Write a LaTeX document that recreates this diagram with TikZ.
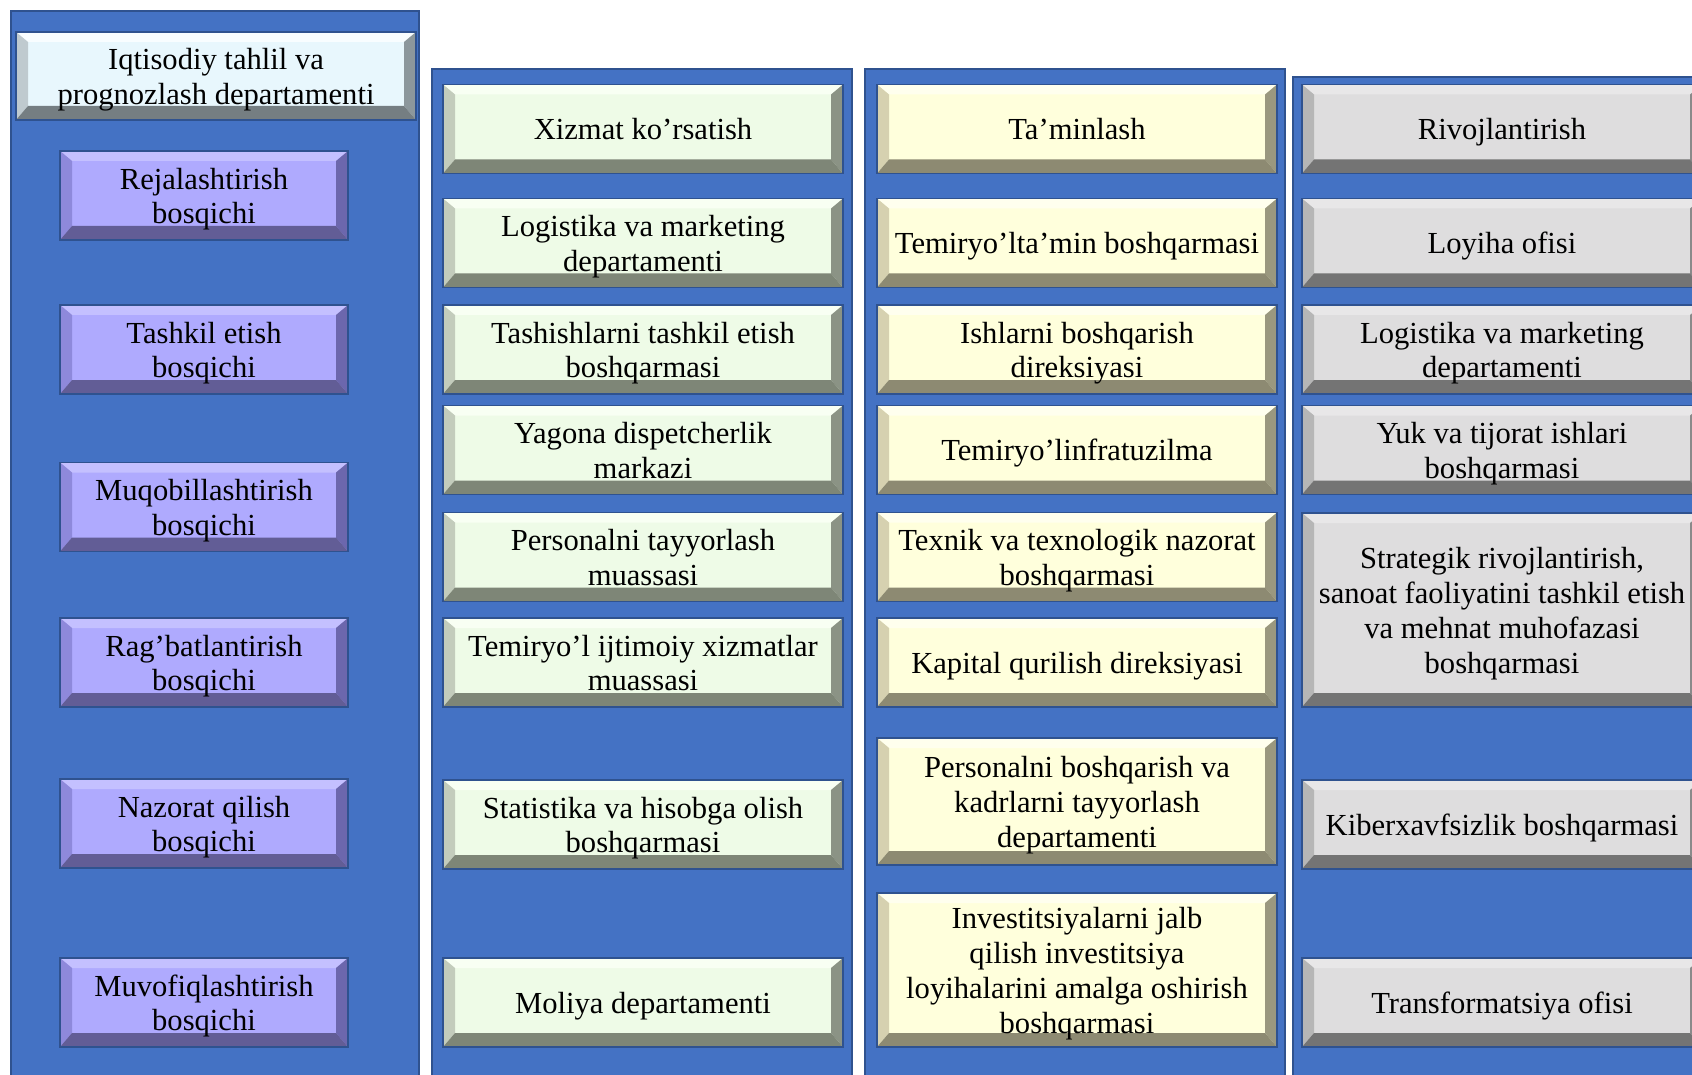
\documentclass[tikz,border=0pt]{standalone}
\usepackage{fontspec}
\setmainfont{Liberation Serif}

\definecolor{panelblue}{HTML}{4472C4}
\definecolor{panelline}{HTML}{2F528F}
% face, top, left, right, bottom shades for each family
\definecolor{headF}{HTML}{E8F7FD}\definecolor{headT}{HTML}{F8FDFF}\definecolor{headL}{HTML}{BFCACF}\definecolor{headR}{HTML}{8C979C}\definecolor{headB}{HTML}{757E82}
\definecolor{stageF}{HTML}{AFAAFE}\definecolor{stageT}{HTML}{C4C0FF}\definecolor{stageL}{HTML}{8E89DB}\definecolor{stageR}{HTML}{6C67AD}\definecolor{stageB}{HTML}{625D96}
\definecolor{servF}{HTML}{EEFBE7}\definecolor{servT}{HTML}{F8FFF3}\definecolor{servL}{HTML}{C3CCBC}\definecolor{servR}{HTML}{8B9385}\definecolor{servB}{HTML}{7E8677}
\definecolor{suppF}{HTML}{FFFFDC}\definecolor{suppT}{HTML}{FFFFEE}\definecolor{suppL}{HTML}{D6D1B0}\definecolor{suppR}{HTML}{9A987F}\definecolor{suppB}{HTML}{8D8A72}
\definecolor{devF}{HTML}{DEDDDE}\definecolor{devT}{HTML}{E8E7E8}\definecolor{devL}{HTML}{B6B6B6}\definecolor{devR}{HTML}{8A8A8A}\definecolor{devB}{HTML}{747474}

% centred lines, set a little low in the box
\newcommand\boxtext[1]{\raisebox{-2pt}[\height][\depth]{\begin{tabular}{@{}c@{}}#1\end{tabular}}}

\tikzset{
  bevel/.style={% #1 = colour family prefix
    draw=panelline, line width=0.8pt, fill=#1F, inner sep=0pt,
    font=\fontsize{15.3pt}{17.4pt}\selectfont,
    path picture={
      \fill[#1T] (path picture bounding box.north west) -- (path picture bounding box.north east)
        -- ([shift={(-6pt,-5pt)}]path picture bounding box.north east) -- ([shift={(6pt,-5pt)}]path picture bounding box.north west) -- cycle;
      \fill[#1L] (path picture bounding box.north west) -- ([shift={(6pt,-5pt)}]path picture bounding box.north west)
        -- ([shift={(6pt,7pt)}]path picture bounding box.south west) -- (path picture bounding box.south west) -- cycle;
      \fill[#1R] (path picture bounding box.north east) -- (path picture bounding box.south east)
        -- ([shift={(-6pt,7pt)}]path picture bounding box.south east) -- ([shift={(-6pt,-5pt)}]path picture bounding box.north east) -- cycle;
      \fill[#1B] (path picture bounding box.south west) -- ([shift={(6pt,7pt)}]path picture bounding box.south west)
        -- ([shift={(-6pt,7pt)}]path picture bounding box.south east) -- (path picture bounding box.south east) -- cycle;
    }},
  headbox/.style={bevel=head, minimum width=200pt, minimum height=44pt},
  stagebox/.style={bevel=stage, minimum width=144pt, minimum height=44.5pt},
  servbox/.style={bevel=serv, minimum width=200pt, minimum height=44.5pt},
  supplybox/.style={bevel=supp, minimum width=200pt, minimum height=44.5pt},
  devbox/.style={bevel=dev, minimum width=200pt, minimum height=44.5pt},
  panel/.style={fill=panelblue, draw=panelline, line width=1.2pt},
}

\begin{document}
\begin{tikzpicture}[x=0.5pt, y=-0.5pt]
\useasboundingbox (0,0) rectangle (1692,1075);
\clip (0,0) rectangle (1692,1075);

% Draw the four columns
\draw[panel] (11,11) rectangle (419,1090);
\draw[panel] (432,69) rectangle (852,1090);
\draw[panel] (865,69) rectangle (1285,1090);
\draw[panel] (1293,77) rectangle (1720,1090);

% First column: department and its stages
\node[headbox] (head) at (216,76) {\boxtext{Iqtisodiy tahlil va\\prognozlash departamenti}};
\node[stagebox] (stage1) at (204,195.5) {\boxtext{Rejalashtirish\\bosqichi}};
\node[stagebox] (stage2) at (204,349.5) {\boxtext{Tashkil etish\\bosqichi}};
\node[stagebox] (stage3) at (204,507) {\boxtext{Muqobillashtirish\\bosqichi}};
\node[stagebox] (stage4) at (204,662.5) {\boxtext{Rag’batlantirish\\bosqichi}};
\node[stagebox] (stage5) at (204,823.5) {\boxtext{Nazorat qilish\\bosqichi}};
\node[stagebox] (stage6) at (204,1002.5) {\boxtext{Muvofiqlashtirish\\bosqichi}};

% Second column
\node[servbox] (serv1) at (643,129) {\boxtext{Xizmat ko’rsatish}};
\node[servbox] (serv2) at (643,243) {\boxtext{Logistika va marketing\\departamenti}};
\node[servbox] (serv3) at (643,349.5) {\boxtext{Tashishlarni tashkil etish\\boshqarmasi}};
\node[servbox] (serv4) at (643,450) {\boxtext{Yagona dispetcherlik\\markazi}};
\node[servbox] (serv5) at (643,557) {\boxtext{Personalni tayyorlash\\muassasi}};
\node[servbox] (serv6) at (643,662.5) {\boxtext{Temiryo’l ijtimoiy xizmatlar\\muassasi}};
\node[servbox] (serv7) at (643,824.5) {\boxtext{Statistika va hisobga olish\\boshqarmasi}};
\node[servbox] (serv8) at (643,1002.5) {\boxtext{Moliya departamenti}};

% Third column
\node[supplybox] (supp1) at (1077,129) {\boxtext{Ta’minlash}};
\node[supplybox] (supp2) at (1077,243) {\boxtext{Temiryo’lta’min boshqarmasi}};
\node[supplybox] (supp3) at (1077,349.5) {\boxtext{Ishlarni boshqarish\\direksiyasi}};
\node[supplybox] (supp4) at (1077,450) {\boxtext{Temiryo’linfratuzilma}};
\node[supplybox] (supp5) at (1077,557) {\boxtext{Texnik va texnologik nazorat\\boshqarmasi}};
\node[supplybox] (supp6) at (1077,662.5) {\boxtext{Kapital qurilish direksiyasi}};
\node[supplybox, minimum height=63.5pt] (supp7) at (1077,801.5) {\boxtext{Personalni boshqarish va\\kadrlarni tayyorlash\\departamenti}};
\node[supplybox, minimum height=77pt] (supp8) at (1077,970) {\boxtext{Investitsiyalarni jalb\\qilish investitsiya\\loyihalarini amalga oshirish\\boshqarmasi}};

% Fourth column
\node[devbox] (dev1) at (1502,129) {\boxtext{Rivojlantirish}};
\node[devbox] (dev2) at (1502,243) {\boxtext{Loyiha ofisi}};
\node[devbox] (dev3) at (1502,349.5) {\boxtext{Logistika va marketing\\departamenti}};
\node[devbox] (dev4) at (1502,450) {\boxtext{Yuk va tijorat ishlari\\boshqarmasi}};
\node[devbox, minimum height=97pt] (dev5) at (1502,610) {\boxtext{Strategik rivojlantirish,\\sanoat faoliyatini tashkil etish\\va mehnat muhofazasi\\boshqarmasi}};
\node[devbox] (dev6) at (1502,824.5) {\boxtext{Kiberxavfsizlik boshqarmasi}};
\node[devbox] (dev7) at (1502,1002.5) {\boxtext{Transformatsiya ofisi}};
\end{tikzpicture}
\end{document}
